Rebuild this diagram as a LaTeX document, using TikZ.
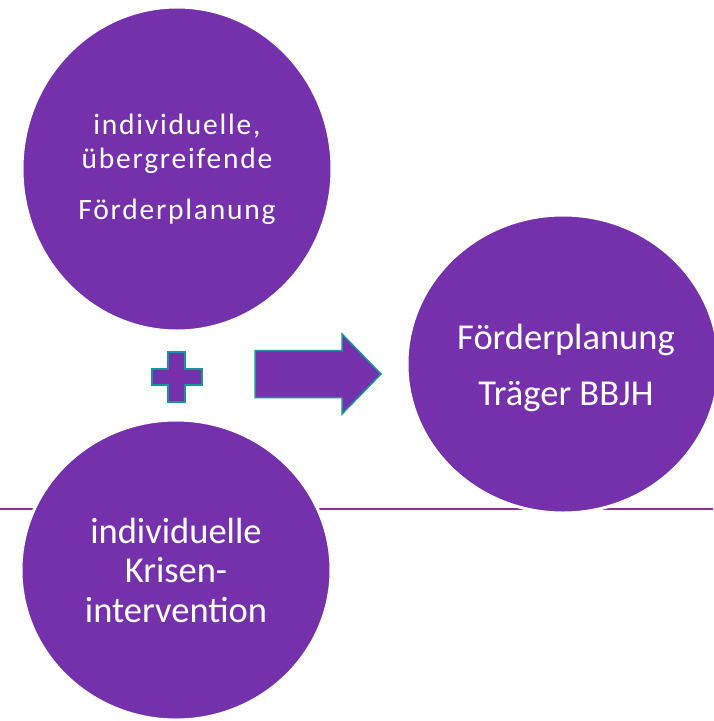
\documentclass[tikz,border=0pt]{standalone}
\usepackage{fontspec}
\setmainfont{Carlito}
\newfontfamily\spacedfont[LetterSpace=6]{Carlito}
\usetikzlibrary{shapes.geometric}
\definecolor{circpurple}{RGB}{117,48,171}
\definecolor{rulepurple}{RGB}{150,40,150}
\definecolor{edgeteal}{RGB}{22,150,155}
\tikzset{
  bubble/.style={ellipse, fill=circpurple, draw=white, line width=3pt, inner sep=0pt,
    text=white, align=center},
  bubbletext/.style={text=white, align=center, inner sep=0pt},
  signshape/.style={fill=circpurple, draw=edgeteal, line width=1.5pt},
}
\begin{document}
\begin{tikzpicture}[x=1pt,y=-1pt]
\useasboundingbox (0,0) rectangle (713,721);
\fill[white] (0,0) rectangle (713,721);
% horizontal rule behind the circles
\coordinate (ruleL) at (0,509);
\coordinate (ruleR) at (713,509);
\draw[rulepurple, line width=2.5pt] (ruleL) -- (ruleR);
% circles
\node[bubble, minimum width=310pt, minimum height=324pt,
  font=\spacedfont\fontsize{29.5}{34}\selectfont] (top) at (177,169)
  {individuelle,\\übergreifende\\[17pt]Förderplanung};
\node[bubble, minimum width=310pt, minimum height=300pt,
  font=\fontsize{36.5}{39.5}\selectfont] (bottom) at (176,570)
  {individuelle\\Krisen-\\intervention};
\node[bubble, minimum width=312pt, minimum height=298pt] (right) at (563,364) {};
\node[bubbletext, font=\fontsize{36.5}{56}\selectfont] (righttext) at (566,368)
  {Förderplanung\\Träger BBJH};
% plus sign
\coordinate (plus) at (176.5,377);
\draw[signshape] ([shift={(-8.5,-25)}]plus) -- ([shift={(8.5,-25)}]plus)
  -- ([shift={(8.5,-8)}]plus) -- ([shift={(25.5,-8)}]plus)
  -- ([shift={(25.5,8)}]plus) -- ([shift={(8.5,8)}]plus)
  -- ([shift={(8.5,25)}]plus) -- ([shift={(-8.5,25)}]plus)
  -- ([shift={(-8.5,8)}]plus) -- ([shift={(-24.5,8)}]plus)
  -- ([shift={(-24.5,-8)}]plus) -- ([shift={(-8.5,-8)}]plus) -- cycle;
% block arrow
\coordinate (arrow) at (255,374);
\draw[signshape] ([shift={(0,-23.5)}]arrow) -- ([shift={(87,-23.5)}]arrow)
  -- ([shift={(87,-40)}]arrow) -- ([shift={(126,0)}]arrow)
  -- ([shift={(87,40)}]arrow) -- ([shift={(87,23.5)}]arrow)
  -- ([shift={(0,23.5)}]arrow) -- cycle;
\end{tikzpicture}
\end{document}
